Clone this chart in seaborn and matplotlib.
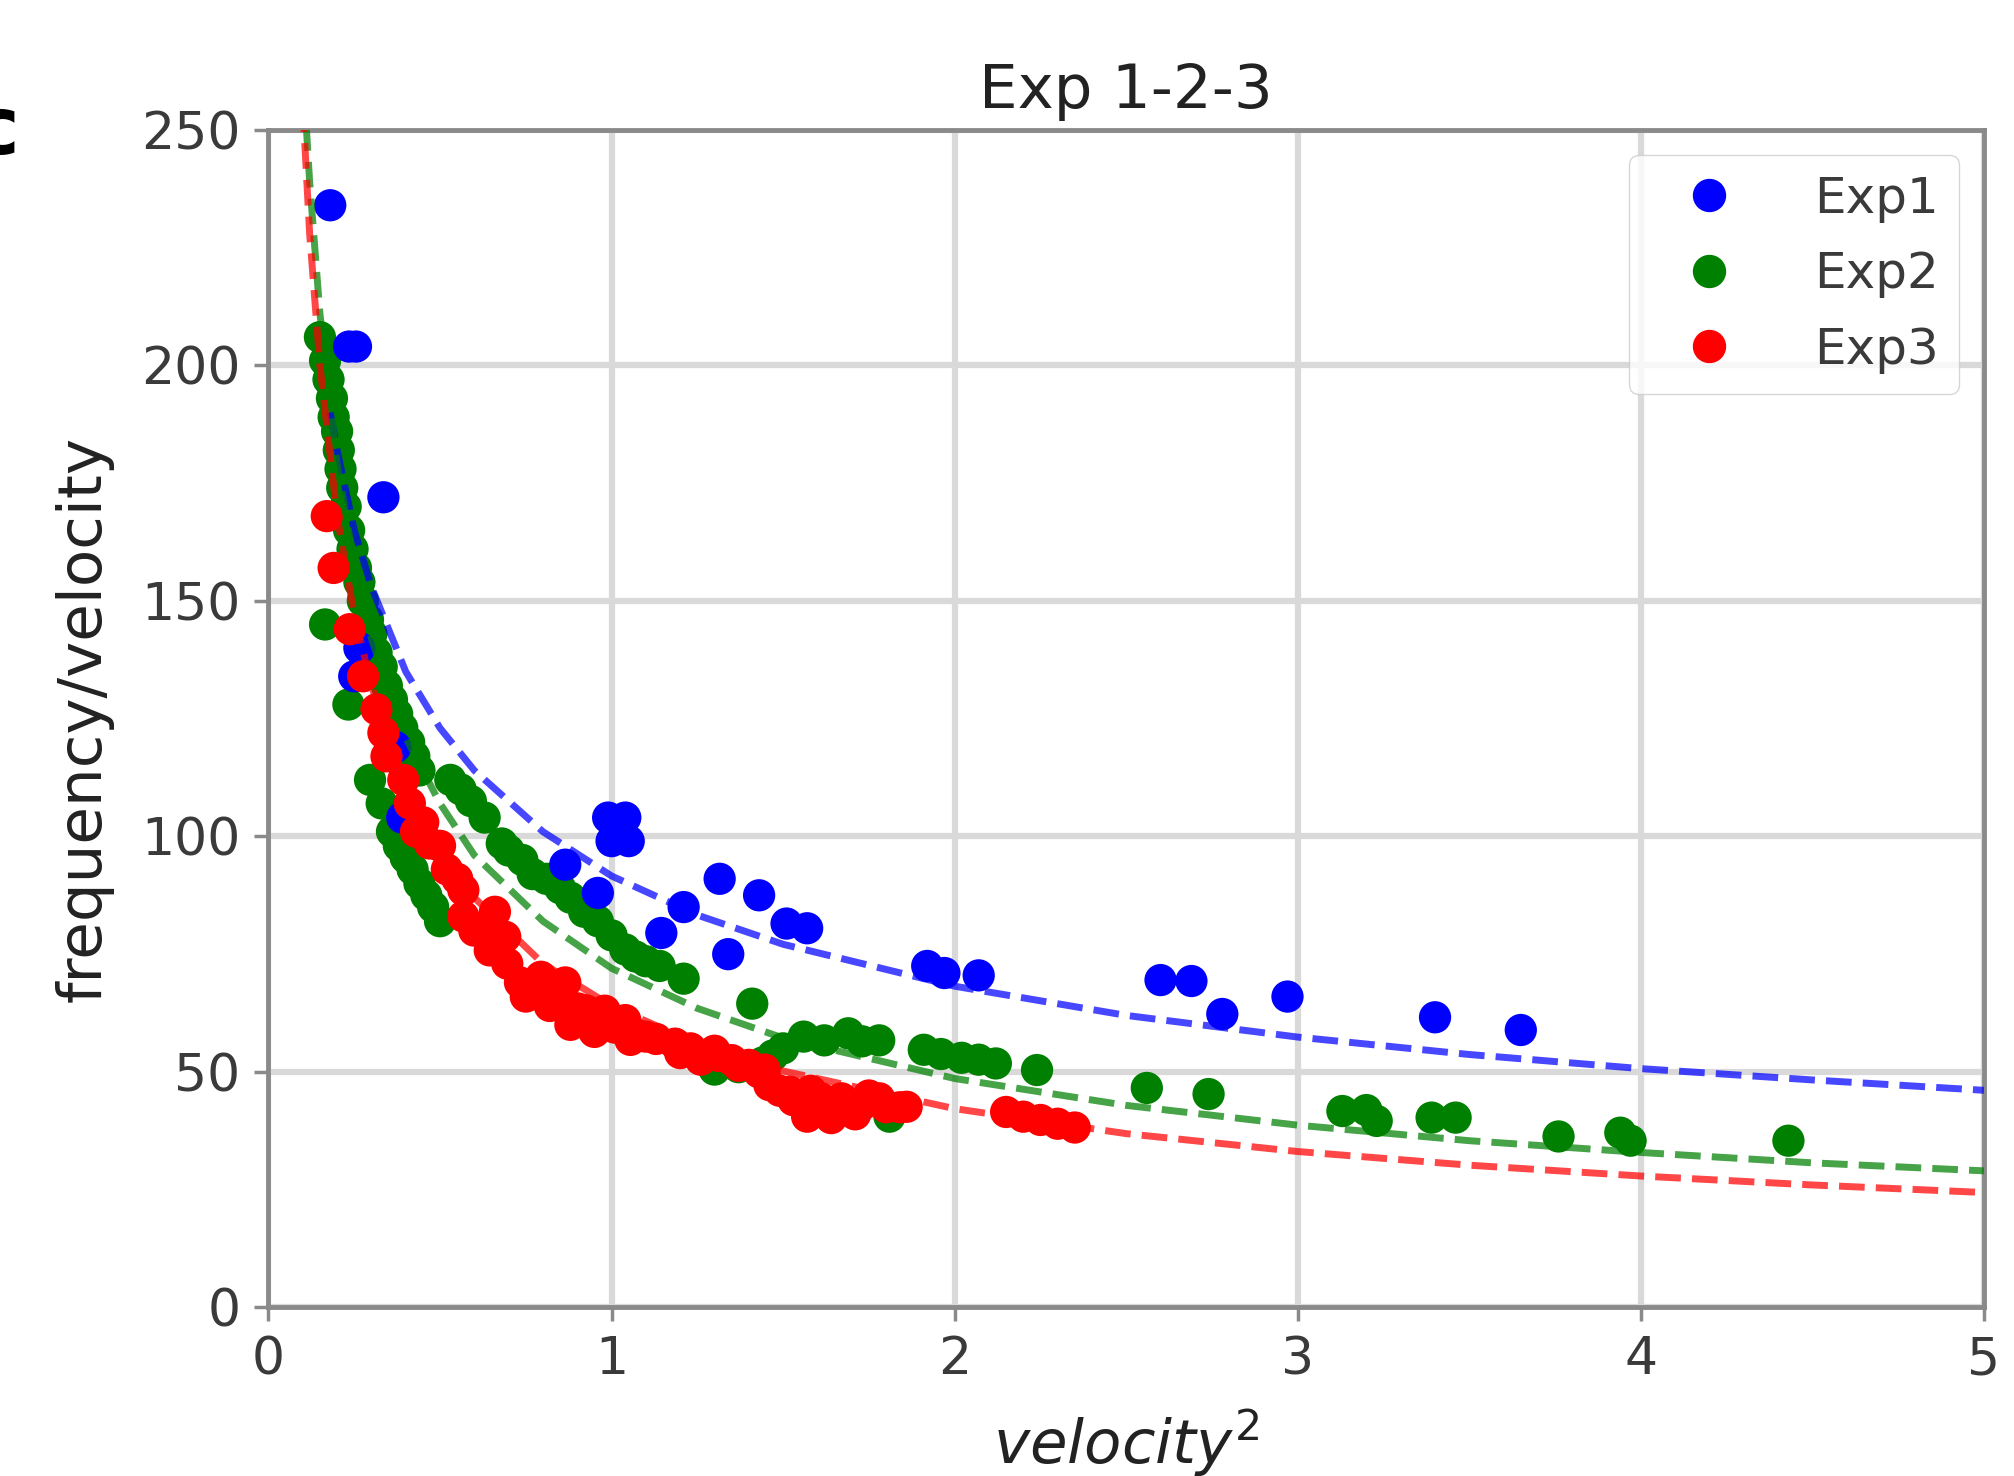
"""
Exp 1-2-3: frequency/velocity against velocity^2 with dashed fit curves.
"""
import matplotlib
matplotlib.use("Agg")
import matplotlib.pyplot as plt
from matplotlib.lines import Line2D
import pandas as pd
import seaborn as sns

# --- scatter data ---------------------------------------------------------
exp1_x = [0.18, 0.235, 0.255, 0.335, 0.25, 0.265, 0.37, 0.39, 0.865, 0.96,
          0.99, 1.04, 1.0, 1.05, 1.145, 1.21, 1.315, 1.34, 1.43, 1.51,
          1.57, 1.92, 1.97, 2.07, 2.6, 2.69, 2.78, 2.97, 3.4, 3.65]
exp1_y = [234, 204, 204, 172, 134, 140, 119, 104, 94, 88,
          104, 104, 99, 99, 79.5, 85, 91, 75, 87.5, 81.5,
          80.5, 72.5, 71, 70.5, 69.5, 69.3, 62.3, 66, 61.6, 58.9]

exp2_x = [0.15, 0.165, 0.175, 0.185, 0.19, 0.2, 0.205, 0.21, 0.215, 0.225,
          0.235, 0.245, 0.255, 0.265, 0.275, 0.29, 0.30, 0.315, 0.33, 0.345,
          0.36, 0.375, 0.39, 0.41, 0.425, 0.44,
          0.165, 0.233, 0.296, 0.33,
          0.36, 0.38, 0.40, 0.42, 0.44, 0.46, 0.48, 0.50,
          0.53, 0.56, 0.59, 0.63, 0.68, 0.70, 0.74,
          0.77, 0.81, 0.85, 0.88, 0.92, 0.96, 1.0, 1.04, 1.07, 1.1,
          1.14, 1.21, 1.41,
          1.3, 1.37, 1.44, 1.47,
          1.5, 1.56, 1.62, 1.69, 1.73, 1.78, 1.81, 1.91, 1.96, 2.02,
          2.07, 2.12, 2.24, 2.56, 2.74, 3.13, 3.2, 3.23, 3.39, 3.46,
          3.76, 3.94, 3.97, 4.43]
exp2_y = [206, 201, 197, 193, 189, 186, 182, 178, 174, 170,
          165, 161, 157, 154, 150, 146, 143, 139, 136, 132,
          129, 126, 123, 120, 117, 114,
          145, 128, 112, 107,
          101, 98, 95.5, 93, 90, 87.5, 85, 82,
          112, 110, 107.5, 104, 98.5, 97, 95,
          92, 91, 89, 87, 84, 82, 79, 76, 74.5, 73.5,
          72.5, 69.8, 64.5,
          50.5, 51, 52, 53.5,
          55, 57.5, 56.7, 58.2, 56.5, 56.7, 40.5, 54.7, 53.8, 53,
          52.6, 51.8, 50.4, 46.6, 45.3, 41.7, 41.9, 39.6, 40.3, 40.3,
          36.3, 37.1, 35.4, 35.4]

exp3_x = [0.17, 0.19, 0.237, 0.276, 0.315, 0.335, 0.344, 0.393, 0.412, 0.43,
          0.451, 0.47, 0.5, 0.52, 0.55, 0.568, 0.568, 0.6, 0.645, 0.645,
          0.66, 0.69, 0.696, 0.733, 0.75, 0.77, 0.794, 0.82, 0.83, 0.865,
          0.88, 0.9, 0.924, 0.95, 0.958, 0.98, 1.01, 1.04, 1.055, 1.07,
          1.1, 1.13, 1.185, 1.2, 1.23, 1.26, 1.3, 1.31, 1.35, 1.37,
          1.4, 1.43, 1.446, 1.46, 1.49, 1.52, 1.53, 1.55, 1.56, 1.57,
          1.58, 1.61, 1.63, 1.64, 1.67, 1.7, 1.71, 1.73, 1.75, 1.78,
          1.8, 1.84, 1.86, 2.15, 2.2, 2.25, 2.3, 2.35]
exp3_y = [168, 157, 144, 134, 127, 122, 117, 112, 107, 101,
          103, 98.5, 98, 93, 91, 88.6, 83, 80, 81, 75.8,
          84, 78.7, 73, 69, 66, 68.5, 70.2, 64, 67, 69,
          60, 63.5, 63.1, 58.5, 60.8, 63, 59.4, 61, 56.8, 58,
          57.5, 57, 56, 54, 55, 52.6, 54.5, 53.4, 52.5, 51.3,
          51.5, 49.9, 50.5, 47.2, 46, 45.8, 44, 44.8, 43, 40.5,
          46, 44.4, 42.5, 40.2, 44.4, 42, 41, 43, 45, 44.4,
          42.5, 42.5, 42.6, 41.5, 40.5, 39.8, 39, 38.2]

# --- dashed fit curves ----------------------------------------------------
fit1_x = [0.18, 0.2, 0.25, 0.3, 0.4, 0.5, 0.6, 0.8, 1.0, 1.25, 1.5, 2.0,
          2.5, 3.0, 3.5, 4.0, 4.5, 5.0]
fit1_y = [190, 182, 165, 153, 135, 123, 114, 101, 91.6, 83.3, 77.1, 68.2,
          62.0, 57.4, 53.7, 50.7, 48.3, 46.1]
fit2_x = [0.11, 0.12, 0.15, 0.2, 0.25, 0.3, 0.4, 0.5, 0.6, 0.8, 1.0, 1.25,
          1.5, 2.0, 2.5, 3.0, 3.5, 4.0, 4.5, 5.0]
fit2_y = [251, 239, 211, 179, 158, 142, 121, 107, 96, 82, 72, 63.5,
          57.2, 48.6, 42.9, 38.7, 35.4, 32.9, 30.7, 29.0]
fit3_x = [0.1, 0.12, 0.15, 0.2, 0.25, 0.3, 0.4, 0.5, 0.6, 0.8, 1.0, 1.25,
          1.5, 2.0, 2.5, 3.0, 3.5, 4.0, 4.5, 5.0]
fit3_y = [255, 228, 200, 168, 147, 132, 111, 97, 87, 73, 64, 56,
          50.2, 42.2, 36.9, 33.1, 30.2, 27.9, 26.0, 24.4]

labels = ["Exp1", "Exp2", "Exp3"]
colors = {"Exp1": "#0000ff", "Exp2": "#008000", "Exp3": "#ff0000"}

sns.set_theme(style="whitegrid", rc={
    "xtick.bottom": True, "ytick.left": True,
    "axes.edgecolor": "#8a8a8a",
})
plt.rcParams["font.family"] = ["DejaVu Sans"]

fig = plt.figure(figsize=(20.14, 14.76), dpi=100)
ax = fig.add_axes([0.1333, 0.1142, 0.8518, 0.7978])

# green drawn first, then blue, then red (as in the original stacking)
df = pd.concat([
    pd.DataFrame({"v2": exp2_x, "fv": exp2_y, "exp": "Exp2"}),
    pd.DataFrame({"v2": exp1_x, "fv": exp1_y, "exp": "Exp1"}),
    pd.DataFrame({"v2": exp3_x, "fv": exp3_y, "exp": "Exp3"}),
], ignore_index=True)
sns.scatterplot(data=df, x="v2", y="fv", hue="exp", palette=colors,
                s=540, linewidth=0, legend=False, ax=ax, zorder=3)

for name, fx, fy in [("Exp1", fit1_x, fit1_y), ("Exp2", fit2_x, fit2_y),
                     ("Exp3", fit3_x, fit3_y)]:
    sns.lineplot(x=fx, y=fy, color=colors[name], lw=5, ls="--", alpha=0.72,
                 errorbar=None, ax=ax, zorder=4)

ax.set_xlim(0, 5)
ax.set_ylim(0, 250)
ax.set_xticks(range(0, 6))
ax.set_yticks(range(0, 251, 50))
ax.set_axisbelow(True)
ax.grid(True, color="#d9d9d9", lw=4.5)
for s in ax.spines.values():
    s.set_color("#8a8a8a")
    s.set_linewidth(3.5)
ax.tick_params(length=10, width=2.5, color="#8a8a8a", labelsize=37.5,
               labelcolor="#3a3a3a", pad=10)

ax.set_title("Exp 1-2-3", fontsize=44, pad=16, color="#222222")
ax.set_xlabel(r"$velocity^2$", fontsize=44, labelpad=16, color="#222222")
ax.set_ylabel("frequency/velocity", fontsize=44, labelpad=20, color="#222222")

handles = [Line2D([], [], marker="o", ls="", color=colors[k], markersize=23)
           for k in labels]
ax.legend(handles, labels, loc="upper right", fontsize=36, frameon=True,
          labelcolor="#3a3a3a", handlelength=2.4, handletextpad=0.9,
          labelspacing=0.55)

# panel letter cut off at the left edge
fig.text(-0.014, 0.896, "c", fontsize=58, fontweight="bold", color="black",
         va="baseline")

fig.savefig("out.png", dpi=100)
